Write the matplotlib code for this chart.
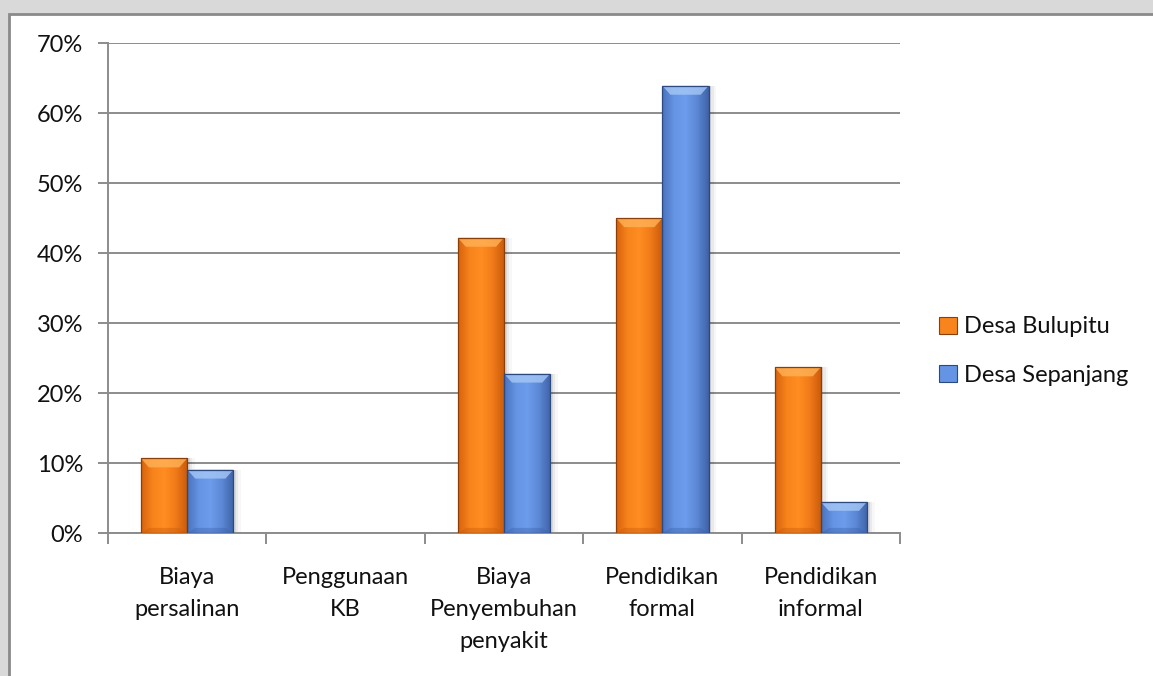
import numpy as np
import matplotlib
matplotlib.use("Agg")
import matplotlib.pyplot as plt
from matplotlib.patches import Rectangle, Polygon
from matplotlib.colors import LinearSegmentedColormap
from matplotlib.ticker import PercentFormatter, FixedLocator

plt.rcParams['font.family'] = ['Lato', 'DejaVu Sans']

categories = ["Biaya\npersalinan", "Penggunaan\nKB", "Biaya\nPenyembuhan\npenyakit",
              "Pendidikan\nformal", "Pendidikan\ninformal"]
series_names = ["Desa Bulupitu", "Desa Sepanjang"]
bulupitu = [0.107, 0.0, 0.422, 0.450, 0.237]
sepanjang = [0.091, 0.0, 0.228, 0.639, 0.045]

# colour ramps: edge -> centre -> edge, plus bevel tones
palettes = {
    "Desa Bulupitu": dict(ramp=["#D9620E", "#F7841C", "#FF8D22", "#F07A18", "#C95A0C"],
                          top="#FFB257", bottom="#C75A0E", edge="#8A3E08"),
    "Desa Sepanjang": dict(ramp=["#4A72BE", "#6494E3", "#6C9CEB", "#5C88D6", "#3F63A8"],
                           top="#A6C8F6", bottom="#3E62A6", edge="#2C4A80"),
}

W, H = 1153, 676
fig = plt.figure(figsize=(W / 100, H / 100), dpi=100)
fig.patch.set_facecolor("#d9d9d9")

# white chart area with a grey frame on its top and left
fig.patches.append(Rectangle((9 / W, -0.01), 1.0, (H - 14) / H + 0.01,
                             transform=fig.transFigure, facecolor="white",
                             edgecolor="#8a8a8a", linewidth=2.0, zorder=-10))

ax = fig.add_axes([108 / W, (H - 533.3) / H, (900 - 108) / W, (533.3 - 43) / H])
ax.set_facecolor("none")
ax.set_zorder(1)

x = np.arange(len(categories))
bw = 0.292
gcol = "#8c8c8c"

ax.set_xlim(-0.5, len(categories) - 0.5)
ax.set_ylim(0, 0.7)
ax.yaxis.set_major_locator(FixedLocator(np.arange(0, 0.71, 0.1)))
ax.yaxis.set_major_formatter(PercentFormatter(1.0, decimals=0))
ax.grid(axis="y", color=gcol, linewidth=1.4, zorder=0)
ax.set_axisbelow(True)
for s in ["top", "right"]:
    ax.spines[s].set_visible(False)
for s in ["left", "bottom"]:
    ax.spines[s].set_color(gcol)
    ax.spines[s].set_linewidth(1.4)

ax.set_xticks(x)
ax.set_xticklabels(categories, fontsize=17, linespacing=1.65, color="#111111")
ax.set_xticks(np.arange(-0.5, len(categories)), minor=True)
ax.tick_params(axis="x", which="major", length=0, pad=24)
ax.tick_params(axis="x", which="minor", length=8, width=1.4, color=gcol, direction="out")
ax.tick_params(axis="y", length=7, width=1.4, color=gcol, direction="out", pad=11,
               labelsize=17, labelcolor="#111111")

px_x = (900 - 108) / len(categories)   # pixels per category unit
px_y = (533.3 - 43) / 0.7              # pixels per value unit


def bevel_bars(bars, pal):
    cmap = LinearSegmentedColormap.from_list("ramp", pal["ramp"])
    grad = np.linspace(0, 1, 64).reshape(1, -1)
    for b in bars:
        h = b.get_height()
        if h <= 0:
            continue
        x0, w = b.get_x(), b.get_width()
        # soft shadow to the right
        for k, a in enumerate([0.08, 0.05, 0.03]):
            ax.add_patch(Rectangle((x0 + w, 0), (k + 1) * 2.5 / px_x, h,
                                   facecolor="black", alpha=a, linewidth=0, zorder=2))
        im = ax.imshow(grad, cmap=cmap, extent=(x0, x0 + w, 0, h), aspect="auto",
                       interpolation="bicubic", zorder=3)
        im.set_clip_path(b)
        dx = min(8 / px_x, w / 2)
        dy = min(9 / px_y, h / 2)
        ax.add_patch(Polygon([(x0, h), (x0 + w, h), (x0 + w - dx, h - dy), (x0 + dx, h - dy)],
                             closed=True, facecolor=pal["top"], edgecolor="none",
                             alpha=0.8, zorder=4))
        ax.add_patch(Polygon([(x0, 0), (x0 + w, 0), (x0 + w - dx, dy * 0.6), (x0 + dx, dy * 0.6)],
                             closed=True, facecolor=pal["bottom"], edgecolor="none",
                             alpha=0.4, zorder=4))
        ax.add_patch(Rectangle((x0, 0), w, h, facecolor="none", edgecolor=pal["edge"],
                               linewidth=0.9, zorder=5))


handles = []
for off, vals, name in [(-bw / 2, bulupitu, series_names[0]), (bw / 2, sepanjang, series_names[1])]:
    pal = palettes[name]
    bars = ax.bar(x + off, vals, width=bw, color=pal["ramp"][1], edgecolor="none",
                  label=name, zorder=2)
    bevel_bars(bars, pal)
    handles.append(Rectangle((0, 0), 1, 1, facecolor=pal["ramp"][1], edgecolor=pal["edge"],
                             linewidth=0.8))

leg = fig.legend(handles, series_names, loc="center left",
                 bbox_to_anchor=(930 / W, (H - 351) / H), frameon=False, fontsize=17,
                 handlelength=0.75, handleheight=0.75, handletextpad=0.3,
                 labelspacing=1.15, borderaxespad=0)
for t in leg.get_texts():
    t.set_color("#111111")

fig.savefig("out.png", dpi=100, facecolor=fig.get_facecolor())
